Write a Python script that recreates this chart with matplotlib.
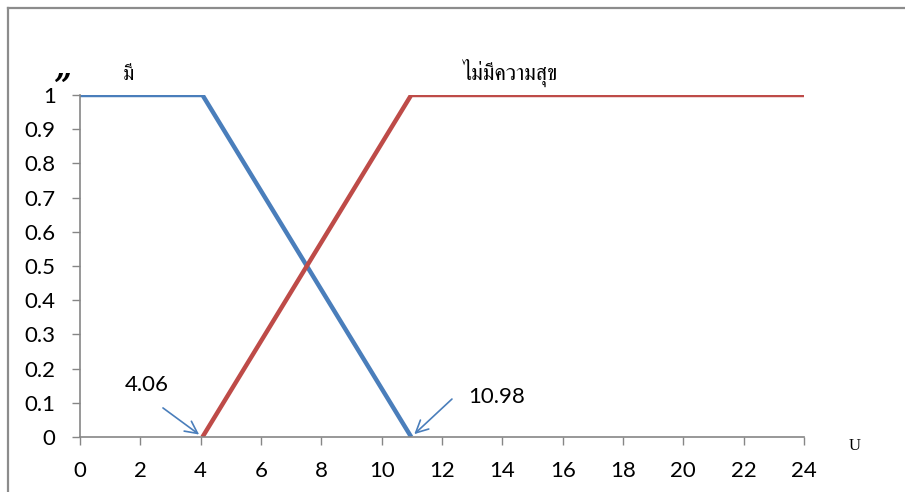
import matplotlib
matplotlib.use('Agg')
import matplotlib.pyplot as plt
from matplotlib import font_manager
from matplotlib.ft2font import FT2Font
from matplotlib.lines import Line2D

# Membership functions
happy_x = [0, 4.06, 10.98]
happy_y = [1, 1, 0]
unhappy_x = [4.06, 10.98, 24]
unhappy_y = [0, 1, 1]
x_ticks = list(range(0, 25, 2))
y_ticks = [0, 0.1, 0.2, 0.3, 0.4, 0.5, 0.6, 0.7, 0.8, 0.9, 1]
y_labels = ['0', '0.1', '0.2', '0.3', '0.4', '0.5', '0.6', '0.7', '0.8', '0.9', '1']
label_happy = 'มี'
label_unhappy = 'ไม่มีความสุข'

BLUE = '#4a7ebb'
RED = '#be4b48'
GRAY = '#868686'


# Look for any installed family that can draw Thai letters
def thai_families():
    found = []
    for f in font_manager.fontManager.ttflist:
        try:
            ft = FT2Font(f.fname)
            if ft.get_char_index(ord('ม')) and ft.get_char_index(ord('ข')):
                if f.name not in found:
                    found.append(f.name)
        except Exception:
            pass
    found.sort(key=lambda n: 0 if 'Serif' in n else 1)
    return found


thai_fonts = thai_families() + ['DejaVu Sans']

plt.rcParams['font.family'] = ['Lato', 'DejaVu Sans']

fig = plt.figure(figsize=(9.05, 4.92), dpi=100)
ax = fig.add_axes([80/905, 1-437/492, 724/905, 342/492])

ax.plot(happy_x, happy_y, color=BLUE, lw=3.2, solid_capstyle='butt')
ax.plot(unhappy_x, unhappy_y, color=RED, lw=3.2, solid_capstyle='butt')

ax.set_xlim(0, 24)
ax.set_ylim(0, 1)
ax.set_xticks(x_ticks)
ax.set_yticks(y_ticks)
ax.set_yticklabels(y_labels)
ax.tick_params(direction='out', length=5.5, width=1, color=GRAY, labelsize=16)
ax.tick_params(axis='y', pad=12)
ax.tick_params(axis='x', pad=12)
for s in ['top', 'right']:
    ax.spines[s].set_visible(False)
for s in ['left', 'bottom']:
    ax.spines[s].set_color(GRAY)
    ax.spines[s].set_linewidth(1.2)

# Annotations with arrows
arrow = dict(arrowstyle='->', color=BLUE, lw=1.2, shrinkA=0, shrinkB=3, mutation_scale=22)
ax.annotate('', xy=(happy_x[1], 0), xytext=(2.75, 0.085), arrowprops=arrow)
ax.annotate('', xy=(happy_x[2], 0), xytext=(12.33, 0.111), arrowprops=arrow)
ax.text(2.22, 0.152, '4.06', fontsize=16, ha='center', va='center')
ax.text(13.82, 0.117, '10.98', fontsize=16, ha='center', va='center')

fig.text(128/905, 1-75/492, label_happy, fontsize=15, family=thai_fonts, ha='center', va='center')
fig.text(510/905, 1-73/492, label_unhappy, fontsize=15.5, family=thai_fonts, ha='center', va='center')
fig.text(63/905, 1-87/492, '\u201d', fontsize=22, fontweight='bold', style='italic',
         family=['DejaVu Serif'], ha='center', va='center')
fig.text(855/905, 1-446/492, 'U', fontsize=12, family=['Liberation Serif'], ha='center', va='center')

# Outer frame
fig.add_artist(Line2D([8/905, 8/905], [0, 1-8/492], color='#8c8c8c', lw=1.6))
fig.add_artist(Line2D([8/905, 1], [1-8/492, 1-8/492], color='#8c8c8c', lw=1.6))

fig.savefig('out.png', dpi=100)
